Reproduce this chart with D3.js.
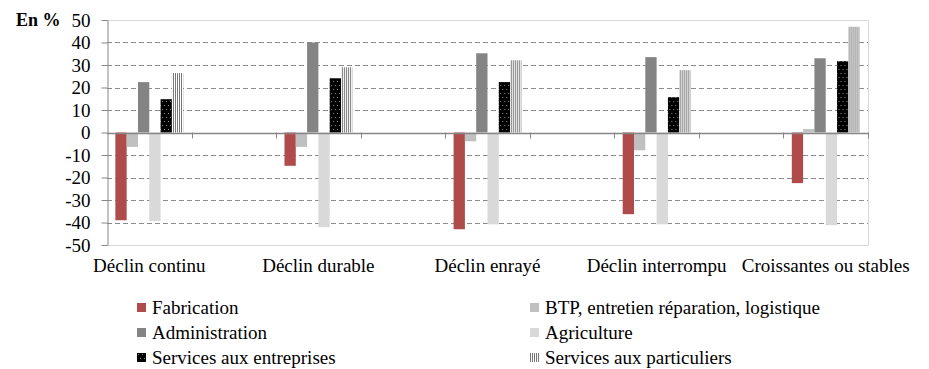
<!DOCTYPE html>
<html>
<head>
<meta charset="utf-8">
<script src="https://cdn.jsdelivr.net/npm/d3@7"></script>
<style>
  body { margin: 0; background: #fff; }
  text { font-family: "Liberation Serif", "DejaVu Serif", serif; fill: #000; }
</style>
</head>
<body>
<svg id="chart" width="929" height="369"></svg>
<script>
// categories (empty slots between the named groups, as in the source chart)
var categories = ["Déclin continu", "", "Déclin durable", "", "Déclin enrayé", "", "Déclin interrompu", "", "Croissantes ou stables"];
var seriesNames = ["Fabrication", "BTP, entretien réparation, logistique", "Administration", "Agriculture", "Services aux entreprises", "Services aux particuliers"];

// values in %, null for the empty slots
var fabrication      = [-39.0, null, -14.8, null, -43.0, null, -36.3, null, -22.5];
var btp              = [ -6.4, null,  -6.4, null,  -3.9, null,  -7.9, null,   1.5];
var administration   = [ 22.4, null,  40.0, null,  35.2, null,  33.5, null,  33.0];
var agriculture      = [-39.3, null, -42.1, null, -40.8, null, -40.8, null, -41.2];
var servEntreprises  = [ 14.8, null,  24.1, null,  22.4, null,  15.7, null,  31.7];
var servParticuliers = [ 26.4, null,  29.0, null,  32.1, null,  27.7, null,  47.0];

var yTicks = [-50, -40, -30, -20, -10, 0, 10, 20, 30, 40, 50];

var seriesValues = [fabrication, btp, administration, agriculture, servEntreprises, servParticuliers];
var fills = ["#af4b4a", "#c0c0c0", "#848484", "#d9d9d9", "url(#dots)", "url(#stripes)"];

var svg = d3.select("#chart");

/*************************** patterns ***************************/
var defs = svg.append("defs");
var dots = defs.append("pattern").attr("id", "dots").attr("patternUnits", "userSpaceOnUse")
  .attr("width", 4).attr("height", 8);
dots.append("rect").attr("width", 4).attr("height", 8).attr("fill", "#000");
dots.append("rect").attr("x", 1).attr("y", 1).attr("width", 1).attr("height", 1).attr("fill", "#8c8c8c");
dots.append("rect").attr("x", 3).attr("y", 5).attr("width", 1).attr("height", 1).attr("fill", "#8c8c8c");

var stripes = defs.append("pattern").attr("id", "stripes").attr("patternUnits", "userSpaceOnUse")
  .attr("width", 2).attr("height", 4);
stripes.append("rect").attr("width", 2).attr("height", 4).attr("fill", "#fff");
stripes.append("rect").attr("x", 0).attr("width", 1).attr("height", 4).attr("fill", "#7a7a7a");

/*************************** scales ***************************/
var plotLeft = 107, plotRight = 868, plotTop = 20, plotBottom = 245;

var y = d3.scaleLinear().domain([-50, 50]).range([plotBottom, plotTop]);
var x0 = d3.scaleBand().domain(d3.range(categories.length)).range([plotLeft, plotRight]).padding(0);
var x1 = d3.scaleBand().domain(d3.range(seriesNames.length)).range([0, x0.bandwidth()])
  .paddingInner(0).paddingOuter(0.74);

/*************************** grid + frame ***************************/
svg.append("g").selectAll("line").data(yTicks.filter(function(d){ return d != 0 && Math.abs(d) != 50; }))
  .enter().append("line")
  .attr("x1", plotLeft).attr("x2", plotRight)
  .attr("y1", function(d){ return Math.round(y(d)) + 0.5; }).attr("y2", function(d){ return Math.round(y(d)) + 0.5; })
  .style("stroke", "#8a8a8a").style("stroke-width", 1).style("stroke-dasharray", "5,3");

// plot area border (light)
svg.append("path")
  .attr("d", "M" + plotLeft + "," + (y(50) + 0.5) + "H" + (plotRight + 0.5) + "V" + (y(-50) + 0.5) + "H" + plotLeft)
  .style("fill", "none").style("stroke", "#d9d9d9").style("stroke-width", 1);

/*************************** bars ***************************/
var groups = svg.append("g").selectAll("g").data(categories).enter().append("g")
  .attr("transform", function(d, i){ return "translate(" + x0(i) + ",0)"; });

groups.selectAll("rect")
  .data(function(d, i){ return seriesValues.map(function(s, k){ return { k: k, v: s[i] }; }).filter(function(e){ return e.v != null; }); })
  .enter().append("rect")
  .attr("x", function(d){ return x1(d.k); })
  .attr("width", x1.bandwidth())
  .attr("y", function(d){ return y(Math.max(0, d.v)); })
  .attr("height", function(d){ return Math.abs(y(d.v) - y(0)); })
  .attr("fill", function(d){ return fills[d.k]; });

/*************************** axes ***************************/
var yAxis = svg.append("g").attr("transform", "translate(" + (plotLeft + 0.5) + ",0)")
  .call(d3.axisLeft(y).tickValues(yTicks).tickSize(6).tickSizeOuter(0).tickPadding(11).tickFormat(d3.format("d")));
yAxis.select(".domain").style("stroke", "#868686");
yAxis.selectAll(".tick line").style("stroke", "#868686");
yAxis.selectAll(".tick text").style("font-size", "19px").style("font-family", "Liberation Serif")
  .text(function(d){ return d < 0 ? "-" + Math.abs(d) : d; });

// zero line + category ticks
svg.append("line").attr("x1", plotLeft).attr("x2", plotRight + 1)
  .attr("y1", Math.round(y(0)) + 0.5).attr("y2", Math.round(y(0)) + 0.5)
  .style("stroke", "#868686").style("stroke-width", 1.3);
svg.append("g").selectAll("line").data(d3.range(1, categories.length + 1)).enter().append("line")
  .attr("x1", function(i){ return Math.round(plotLeft + i * x0.step()) + 0.5; })
  .attr("x2", function(i){ return Math.round(plotLeft + i * x0.step()) + 0.5; })
  .attr("y1", y(0)).attr("y2", y(0) + 6)
  .style("stroke", "#868686").style("stroke-width", 1);

svg.append("g").selectAll("text").data(categories).enter().append("text")
  .attr("x", function(d, i){ return x0(i) + x0.bandwidth() / 2; })
  .attr("y", 272)
  .attr("text-anchor", "middle")
  .style("font-size", "19px")
  .text(function(d){ return d; });

svg.append("text").attr("x", 16).attr("y", 26).style("font-size", "18px").style("font-weight", "bold").text("En %");

/*************************** legend ***************************/
var legendX = [137, 530];
var legend = svg.append("g").selectAll("g").data(seriesNames).enter().append("g")
  .attr("transform", function(d, i){ return "translate(" + legendX[i % 2] + "," + (303 + Math.floor(i / 2) * 25) + ")"; });
legend.append("rect").attr("width", 9).attr("height", 9)
  .attr("fill", function(d, i){ return fills[i]; });
legend.append("text").attr("x", 15).attr("y", 10.5).style("font-size", "19px").text(function(d){ return d; });
</script>
</body>
</html>
